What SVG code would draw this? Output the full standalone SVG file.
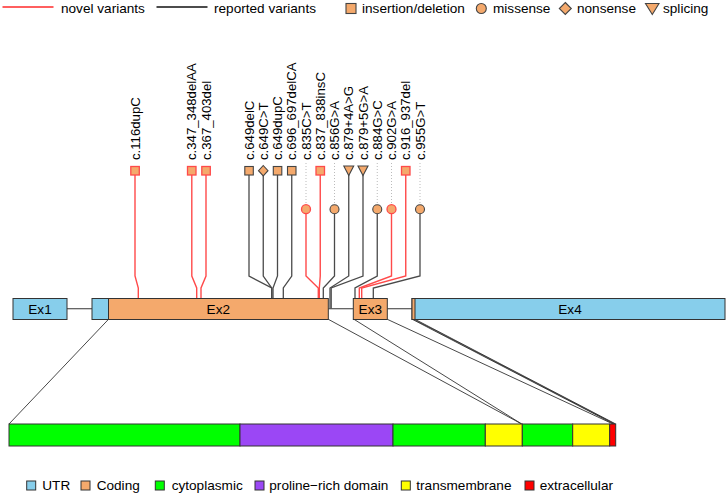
<svg xmlns="http://www.w3.org/2000/svg" width="728" height="495" viewBox="0 0 728 495">
<style>
text{font-family:"Liberation Sans",Arial,Helvetica,sans-serif;fill:#000}
.lg{font-size:13.6px}
.lab{font-size:13.2px}
.ex{font-size:13.6px;text-anchor:middle}
.utr{fill:#87CEEB;stroke:#333;stroke-width:1}
.cod{fill:#F4A96C;stroke:#333;stroke-width:1}
.dom{stroke:#333;stroke-width:1}
.nov{fill:none;stroke:#ff4a4a;stroke-width:1.4}
.rep{fill:none;stroke:#4a4a4a;stroke-width:1.3}
.sn{fill:#F4A96C;stroke:#ff4a4a;stroke-width:1.3}
.sr{fill:#F4A96C;stroke:#444;stroke-width:1.1}
.dot{stroke:#bbb;stroke-width:1;stroke-dasharray:1 2}
.map{fill:none;stroke:#333;stroke-width:0.9}
.intr{stroke:#555;stroke-width:1.2}
</style>

<g id="legend-top">
<line x1="2.5" y1="7" x2="53.5" y2="7" stroke="#ff2a2a" stroke-width="1.3"/>
<text class="lg" x="61" y="13">novel variants</text>
<line x1="156.5" y1="7" x2="207.5" y2="7" stroke="#111" stroke-width="1.3"/>
<text class="lg" x="214" y="13">reported variants</text>
<rect class="sr" x="346" y="3.5" width="10" height="10"/>
<text class="lg" x="362" y="13">insertion/deletion</text>
<circle class="sr" cx="481.3" cy="8.5" r="5"/>
<text class="lg" x="493" y="13">missense</text>
<polygon class="sr" points="565.3,2.5 571.3,8.5 565.3,14.5 559.3,8.5"/>
<text class="lg" x="577" y="13">nonsense</text>
<polygon class="sr" points="645.5,3.5 659,3.5 652.3,14.5"/>
<text class="lg" x="663" y="13">splicing</text>
</g>

<g id="connectors">
<line class="dot" x1="306" y1="163" x2="306" y2="204"/>
<line class="dot" x1="334.5" y1="163" x2="334.5" y2="204"/>
<line class="dot" x1="377.25" y1="163" x2="377.25" y2="204"/>
<line class="dot" x1="391.5" y1="163" x2="391.5" y2="204"/>
<line class="dot" x1="420" y1="163" x2="420" y2="204"/>
<polyline class="nov" points="135,175 135,276 138.3,288 138.3,298"/>
<polyline class="nov" points="191.8,175 191.8,276 196.7,288 196.7,298"/>
<polyline class="nov" points="206,175 206,276 201,288 201,298"/>
<polyline class="rep" points="249,175 249,276 271.7,288 271.7,298"/>
<polyline class="rep" points="263.25,175 263.25,276 271.7,288 271.7,298"/>
<polyline class="rep" points="277.5,175 277.5,276 273,288 273,298"/>
<polyline class="rep" points="291.75,175 291.75,276 283.3,288 283.3,298"/>
<polyline class="nov" points="306,213.5 306,276 318.3,288 318.3,298"/>
<polyline class="nov" points="320.25,175 320.25,276 319.3,288 319.3,298"/>
<polyline class="rep" points="334.5,213.5 334.5,276 323.3,288 323.3,298"/>
<polyline class="rep" points="348.75,175 348.75,276 330,288 330,308.7"/>
<polyline class="rep" points="363,175 363,276 331.2,288 331.2,308.7"/>
<polyline class="rep" points="377.25,213.5 377.25,276 355,288 355,298"/>
<polyline class="nov" points="391.5,213.5 391.5,276 359.3,288 359.3,298"/>
<polyline class="nov" points="405.75,175 405.75,276 361.7,288 361.7,298"/>
<polyline class="rep" points="420,213.5 420,276 373.3,288 373.3,298"/>
<line class="map" x1="108.5" y1="319.3" x2="9" y2="424"/>
<line class="map" x1="328.3" y1="319.3" x2="521.7" y2="424"/>
<line class="map" x1="354" y1="319.3" x2="521.7" y2="424"/>
<line class="map" x1="387.3" y1="319.3" x2="613" y2="424"/>
<line class="map" x1="412.3" y1="319.3" x2="613.8" y2="424"/>
<line class="map" x1="413.7" y1="319.3" x2="614.8" y2="424"/>
<line class="map" x1="415" y1="319.3" x2="615.7" y2="424"/>
</g>

<g id="gene">
<line class="intr" x1="67" y1="308.7" x2="92" y2="308.7"/>
<line class="intr" x1="328.3" y1="308.7" x2="353.3" y2="308.7"/>
<line class="intr" x1="387.3" y1="308.7" x2="412" y2="308.7"/>
<g id="ex1"><rect class="utr" x="13" y="298.5" width="54" height="21"/><text class="ex" x="40" y="314">Ex1</text></g>
<g id="ex2"><rect class="utr" x="92" y="298.5" width="16.5" height="21"/><rect class="cod" x="108.5" y="298.5" width="219.8" height="21"/><text class="ex" x="218.3" y="314">Ex2</text></g>
<g id="ex3"><rect class="cod" x="353.3" y="298.5" width="34" height="21"/><text class="ex" x="370.3" y="314">Ex3</text></g>
<g id="ex4"><rect class="utr" x="412" y="298.5" width="313" height="21"/><rect class="cod" x="412" y="298.5" width="3" height="21"/><text class="ex" x="570" y="314">Ex4</text></g>
</g>

<g id="protein">
<rect class="dom" x="9" y="424" width="231" height="22" fill="#00FF00"/>
<rect class="dom" x="240" y="424" width="153" height="22" fill="#9B47F5"/>
<rect class="dom" x="393" y="424" width="92.3" height="22" fill="#00FF00"/>
<rect class="dom" x="485.3" y="424" width="37" height="22" fill="#FFFF00"/>
<rect class="dom" x="522.3" y="424" width="50.4" height="22" fill="#00FF00"/>
<rect class="dom" x="572.7" y="424" width="37" height="22" fill="#FFFF00"/>
<rect class="dom" x="609.7" y="424" width="6" height="22" fill="#FF0000"/>
</g>

<g id="variants">
<g id="v1"><rect class="sn" x="130.8" y="166.5" width="8.5" height="8.5"/><text class="lab" transform="translate(139.5,160) rotate(-90)">c.116dupC</text></g>
<g id="v2"><rect class="sn" x="187.5" y="166.5" width="8.5" height="8.5"/><text class="lab" transform="translate(196.3,160) rotate(-90)">c.347_348delAA</text></g>
<g id="v3"><rect class="sn" x="201.8" y="166.5" width="8.5" height="8.5"/><text class="lab" transform="translate(210.5,160) rotate(-90)">c.367_403del</text></g>
<g id="v4"><rect class="sr" x="244.8" y="166.5" width="8.5" height="8.5"/><text class="lab" transform="translate(253.5,160) rotate(-90)">c.649delC</text></g>
<g id="v5"><polygon class="sr" points="263.25,165.5 268,170.7 263.25,175.9 258.5,170.7"/><text class="lab" transform="translate(267.7,160) rotate(-90)">c.649C&gt;T</text></g>
<g id="v6"><rect class="sr" x="273.3" y="166.5" width="8.5" height="8.5"/><text class="lab" transform="translate(282,160) rotate(-90)">c.649dupC</text></g>
<g id="v7"><rect class="sr" x="287.5" y="166.5" width="8.5" height="8.5"/><text class="lab" transform="translate(296.2,160) rotate(-90)">c.696_697delCA</text></g>
<g id="v8"><circle class="sn" cx="306" cy="209.2" r="4.5"/><text class="lab" transform="translate(310.5,160) rotate(-90)">c.835C&gt;T</text></g>
<g id="v9"><rect class="sn" x="316" y="166.5" width="8.5" height="8.5"/><text class="lab" transform="translate(324.7,160) rotate(-90)">c.837_838insC</text></g>
<g id="v10"><circle class="sr" cx="334.5" cy="209.2" r="4.5"/><text class="lab" transform="translate(339,160) rotate(-90)">c.856G&gt;A</text></g>
<g id="v11"><polygon class="sr" points="343.8,166 353.7,166 348.75,175.5"/><text class="lab" transform="translate(353.2,160) rotate(-90)">c.879+4A&gt;G</text></g>
<g id="v12"><polygon class="sr" points="358,166 368,166 363,175.5"/><text class="lab" transform="translate(367.5,160) rotate(-90)">c.879+5G&gt;A</text></g>
<g id="v13"><circle class="sr" cx="377.25" cy="209.2" r="4.5"/><text class="lab" transform="translate(381.7,160) rotate(-90)">c.884G&gt;C</text></g>
<g id="v14"><circle class="sn" cx="391.5" cy="209.2" r="4.5"/><text class="lab" transform="translate(396,160) rotate(-90)">c.902G&gt;A</text></g>
<g id="v15"><rect class="sn" x="401.5" y="166.5" width="8.5" height="8.5"/><text class="lab" transform="translate(410.2,160) rotate(-90)">c.916_937del</text></g>
<g id="v16"><circle class="sr" cx="420" cy="209.2" r="4.5"/><text class="lab" transform="translate(424.5,160) rotate(-90)">c.955G&gt;T</text></g>
</g>

<g id="legend-bottom">
<rect class="utr" x="26.7" y="481" width="9" height="9"/>
<text class="lg" x="42.3" y="490">UTR</text>
<rect class="cod" x="81" y="481" width="9" height="9"/>
<text class="lg" x="96.7" y="490">Coding</text>
<rect class="dom" x="155.3" y="481" width="9" height="9" fill="#00FF00"/>
<text class="lg" x="171.7" y="490">cytoplasmic</text>
<rect class="dom" x="255" y="481" width="9" height="9" fill="#9B47F5"/>
<text class="lg" x="269.3" y="490">proline−rich domain</text>
<rect class="dom" x="401.3" y="481" width="9" height="9" fill="#FFFF00"/>
<text class="lg" x="416.3" y="490">transmembrane</text>
<rect class="dom" x="525" y="481" width="9" height="9" fill="#FF0000"/>
<text class="lg" x="539.7" y="490">extracellular</text>
</g>
</svg>
